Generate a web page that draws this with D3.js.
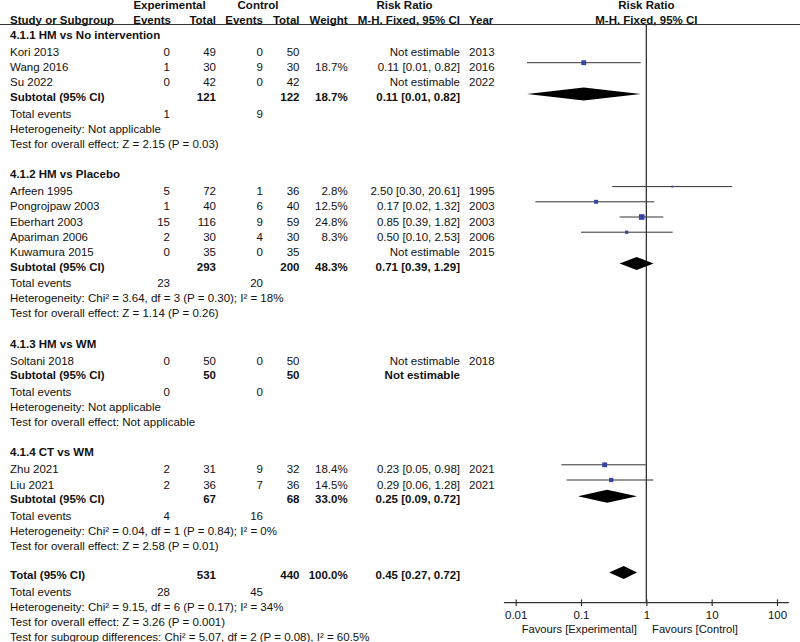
<!DOCTYPE html>
<html><head><meta charset="utf-8">
<script src="https://cdn.jsdelivr.net/npm/d3@7"></script>
<style>
html,body{margin:0;padding:0;background:#fff;}
svg{display:block;font-family:"Liberation Sans",Arial,Helvetica,sans-serif;}
</style></head>
<body>
<svg id="chart" width="800" height="642"></svg>
<script>
// ---------- DATA ----------
const groups = ["4.1.1 HM vs No intervention", "4.1.2 HM vs Placebo", "4.1.3 HM vs WM", "4.1.4 CT vs WM"];
const studies = ["Kori 2013","Wang 2016","Su 2022","Arfeen 1995","Pongrojpaw 2003","Eberhart 2003","Apariman 2006","Kuwamura 2015","Soltani 2018","Zhu 2021","Liu 2021"];
const studyGroup = [0,0,0,1,1,1,1,1,2,3,3];
const expEvents = [0,1,0,5,1,15,2,0,0,2,2];
const expTotal = [49,30,42,72,40,116,30,35,50,31,36];
const ctrlEvents = [0,9,0,1,6,9,4,0,0,9,7];
const ctrlTotal = [50,30,42,36,40,59,30,35,50,32,36];
const weight = [null,18.7,null,2.8,12.5,24.8,8.3,null,null,18.4,14.5];
const rr = [null,0.11,null,2.50,0.17,0.85,0.50,null,null,0.23,0.29];
const ciLow = [null,0.0149,null,0.30,0.02,0.39,0.10,null,null,0.05,0.06];
const ciHigh = [null,0.82,null,20.61,1.32,1.82,2.53,null,null,0.98,1.28];
const years = [2013,2016,2022,1995,2003,2003,2006,2015,2018,2021,2021];

const subExpTotal = [121,293,50,67];
const subCtrlTotal = [122,200,50,68];
const subWeight = [18.7,48.3,null,33.0];
const subRR = [0.11,0.71,null,0.25];
const subLow = [0.0149,0.39,null,0.09];
const subHigh = [0.82,1.29,null,0.72];
const subExpEvents = [1,23,0,4];
const subCtrlEvents = [9,20,0,16];
const subHet = ["Not applicable","Chi\u00B2 = 3.64, df = 3 (P = 0.30); I\u00B2 = 18%","Not applicable","Chi\u00B2 = 0.04, df = 1 (P = 0.84); I\u00B2 = 0%"];
const subEffect = ["Z = 2.15 (P = 0.03)","Z = 1.14 (P = 0.26)","Not applicable","Z = 2.58 (P = 0.01)"];

const totalExp = 531, totalCtrl = 440, totalWeight = 100.0;
const totalRR = [0.45, 0.27, 0.72];
const totalEvents = [28, 45];
const totalHet = "Chi\u00B2 = 9.15, df = 6 (P = 0.17); I\u00B2 = 34%";
const totalEffect = "Z = 3.26 (P = 0.001)";
const subgroupDiff = "Chi\u00B2 = 5.07, df = 2 (P = 0.08), I\u00B2 = 60.5%";

const tickValues = [0.01, 0.1, 1, 10, 100];
const tickLabels = ["0.01","0.1","1","10","100"];
const favourLabels = ["Favours [Experimental]", "Favours [Control]"];

// ---------- LAYOUT ----------
const svg = d3.select("#chart");
const FS = 11.5;
const col = {study:10, expEv:170, expTot:216, ctlEv:263, ctlTot:299.5, wt:347.7, rr:460, year:469, rrHead:404.5};
const x = d3.scaleLog().domain([0.01, 100]).range([515.7, 777]);
const axisY = 602.7, headerLineY = 24.5;
const f2 = d3.format(".2f"), f1 = d3.format(".1f");
const ink = "#111";

function txt(xp, yp, s, anchor, bold, size){
  svg.append("text").attr("x", xp).attr("y", yp).attr("text-anchor", anchor||"start")
    .attr("font-size", size||FS).attr("font-weight", bold?"bold":"normal").attr("fill", ink).text(s);
}
const rrText = (a,b,c) => `${f2(a)} [${f2(b)}, ${f2(c)}]`;

// header
txt(169.5, 9, "Experimental", "middle", true);
txt(258, 9, "Control", "middle", true);
txt(col.rrHead, 9, "Risk Ratio", "middle", true);
txt(x(1), 9, "Risk Ratio", "middle", true);
txt(col.study, 24, "Study or Subgroup", "start", true);
txt(col.expEv+1, 24, "Events", "end", true);
txt(col.expTot, 24, "Total", "end", true);
txt(col.ctlEv, 24, "Events", "end", true);
txt(col.ctlTot, 24, "Total", "end", true);
txt(col.wt, 24, "Weight", "end", true);
txt(col.rr, 24, "M-H. Fixed, 95% CI", "end", true);
txt(col.year, 24, "Year", "start", true);
txt(x(1), 24, "M-H. Fixed, 95% CI", "middle", true);

svg.append("line").attr("x1",0).attr("x2",800).attr("y1",headerLineY).attr("y2",headerLineY)
  .attr("stroke","#333").attr("stroke-width",1.2);

// null line
svg.append("line").attr("x1",x(1)).attr("x2",x(1)).attr("y1",headerLineY).attr("y2",axisY)
  .attr("stroke","#333").attr("stroke-width",1.3);

const sq = d3.scaleSqrt().domain([0, 25]).range([0, 5.6]);
const markOff = 8.5, diaOff = 7, diaH = 6.5;

function diamond(yb, c, lo, hi){
  const yc = yb - diaOff;
  svg.append("path")
    .attr("d", `M${x(lo)},${yc} L${x(c)},${yc-diaH} L${x(hi)},${yc} L${x(c)},${yc+diaH} Z`)
    .attr("fill","#000");
}

let y = 39;
groups.forEach((g, gi) => {
  txt(col.study, y, g, "start", true);
  y += 17;
  const idx = studyGroup.map((d,i)=>d===gi?i:-1).filter(i=>i>=0);
  idx.forEach((i, k) => {
    txt(col.study, y, studies[i]);
    txt(col.expEv, y, expEvents[i], "end");
    txt(col.expTot, y, expTotal[i], "end");
    txt(col.ctlEv, y, ctrlEvents[i], "end");
    txt(col.ctlTot, y, ctrlTotal[i], "end");
    if (weight[i] != null) txt(col.wt, y, f1(weight[i]) + "%", "end");
    txt(col.rr, y, rr[i] != null ? rrText(rr[i], ciLow[i], ciHigh[i]) : "Not estimable", "end");
    txt(col.year, y, years[i], "start");
    if (rr[i] != null) {
      const ym = y - markOff;
      svg.append("line").attr("x1", x(ciLow[i])).attr("x2", x(ciHigh[i])).attr("y1", ym).attr("y2", ym)
        .attr("stroke","#333").attr("stroke-width",1);
      const s = sq(weight[i]);
      svg.append("rect").attr("x", x(rr[i]) - s/2).attr("y", ym - s/2).attr("width", s).attr("height", s)
        .attr("fill","#3443a6");
    }
    y += (k === idx.length-1) ? 14.7 : 15.2;
  });
  txt(col.study, y, "Subtotal (95% CI)", "start", true);
  txt(col.expTot, y, subExpTotal[gi], "end", true);
  txt(col.ctlTot, y, subCtrlTotal[gi], "end", true);
  if (subWeight[gi] != null) txt(col.wt, y, f1(subWeight[gi]) + "%", "end", true);
  txt(col.rr, y, subRR[gi] != null ? rrText(subRR[gi], subLow[gi], subHigh[gi]) : "Not estimable", "end", true);
  if (subRR[gi] != null) diamond(y, subRR[gi], subLow[gi], subHigh[gi]);
  y += 16.5;
  txt(col.study, y, "Total events");
  txt(col.expEv, y, subExpEvents[gi], "end");
  txt(col.ctlEv, y, subCtrlEvents[gi], "end");
  y += 15.1;
  txt(col.study, y, "Heterogeneity: " + subHet[gi]);
  y += 15.1;
  txt(col.study, y, "Test for overall effect: " + subEffect[gi]);
  y += (gi === groups.length-1) ? 29.5 : 30.3;
});

// overall total
txt(col.study, y, "Total (95% CI)", "start", true);
txt(col.expTot, y, totalExp, "end", true);
txt(col.ctlTot, y, totalCtrl, "end", true);
txt(col.wt, y, f1(totalWeight) + "%", "end", true);
txt(col.rr, y, rrText(...totalRR), "end", true);
diamond(y, totalRR[0], totalRR[1], totalRR[2]);
y += 16.5;
txt(col.study, y, "Total events");
txt(col.expEv, y, totalEvents[0], "end");
txt(col.ctlEv, y, totalEvents[1], "end");
y += 15.1;
txt(col.study, y, "Heterogeneity: " + totalHet);
y += 15.1;
txt(col.study, y, "Test for overall effect: " + totalEffect);
y += 15.1;
txt(col.study, y, "Test for subgroup differences: " + subgroupDiff);

// axis
const axisG = svg.append("g").attr("transform", `translate(0,${axisY})`);
axisG.append("line").attr("x1", x(0.0066)).attr("x2", x(152)).attr("y1",0).attr("y2",0)
  .attr("stroke","#333").attr("stroke-width",1.2);
const ax = d3.axisBottom(x).tickValues(tickValues).tickFormat((d,i)=>tickLabels[i]).tickSizeOuter(0).tickSizeInner(3.3).tickPadding(7);
const g2 = axisG.append("g").call(ax);
g2.select(".domain").remove();
g2.selectAll(".tick line").attr("y1",-3.3).attr("y2",3.3).attr("stroke","#333").attr("stroke-width",1.2);
g2.selectAll(".tick text").attr("font-size",FS).attr("fill",ink).attr("font-family",null).attr("dy",null).attr("y",16.6);
txt(x(1) - 9.6, axisY + 30, favourLabels[0], "end", false, 11.2);
txt(x(1) + 5.7, axisY + 30, favourLabels[1], "start", false, 11.2);
</script>
</body></html>
